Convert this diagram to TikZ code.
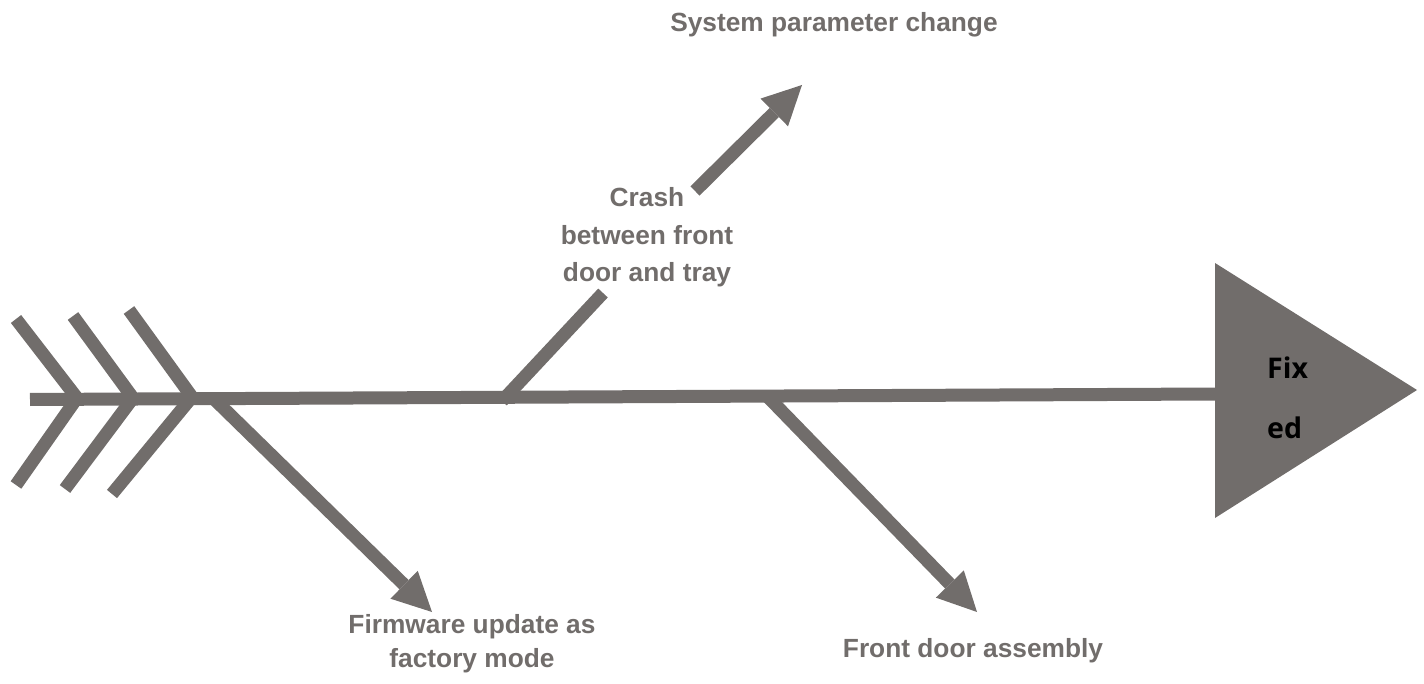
\documentclass[tikz,border=0pt]{standalone}
\usepackage{fontspec}
\setmainfont{Liberation Sans}
\newfontfamily\fixfont{Open Sans}
\usetikzlibrary{arrows.meta}
\definecolor{fishgray}{HTML}{716D6B}
\begin{document}
\begin{tikzpicture}[x=1pt,y=-1pt,
  bone/.style={draw=fishgray,line width=13pt},
  arr/.style={bone,-{Triangle[length=39pt,width=39pt,line width=0pt]}},
  lbl/.style={text=fishgray,font=\fontsize{26.3}{33.5}\selectfont\bfseries,inner sep=0pt,anchor=base,align=center},
  headtxt/.style={text=black,font=\fixfont\fontsize{28.5}{60}\selectfont\bfseries,inner sep=0pt,anchor=base west,align=left}]
\useasboundingbox (0,0) rectangle (1424,684);
% spine and head
\coordinate (tail) at (30,399.5);
\coordinate (head) at (1215,394);
\draw[bone] (tail) -- (head);
\coordinate (h1) at (1215,263);
\coordinate (h2) at (1417,390);
\coordinate (h3) at (1215,518);
\fill[fishgray] (h1) -- (h2) -- (h3) -- cycle;
\node[headtxt] (fixed) at (1267,438) {Fix\\ed};
% tail chevrons
\coordinate (c1a) at (16,319); \coordinate (c1v) at (77,398); \coordinate (c1b) at (16,485);
\coordinate (c2a) at (73,316); \coordinate (c2v) at (133,398); \coordinate (c2b) at (65,489);
\coordinate (c3a) at (129,310); \coordinate (c3v) at (192,397); \coordinate (c3b) at (112,494);
\draw[bone] (c1a) -- (c1v) -- (c1b);
\draw[bone] (c2a) -- (c2v) -- (c2b);
\draw[bone] (c3a) -- (c3v) -- (c3b);
% branches
\coordinate (b1s) at (213,398); \coordinate (b1e) at (432,612);
\draw[arr] (b1s) -- (b1e);
\coordinate (b2s) at (502,401); \coordinate (b2m) at (603,293);
\coordinate (b2n) at (695,191); \coordinate (b2e) at (802,85);
\draw[bone] (b2s) -- (b2m);
\draw[arr] (b2n) -- (b2e);
\coordinate (b3s) at (766,395); \coordinate (b3e) at (977,612);
\draw[arr] (b3s) -- (b3e);
% labels (multi-line nodes are anchored at the last line's baseline)
\node[lbl] (sys) at (834,32) {System parameter change};
\node[lbl,font=\fontsize{26.3}{37.5}\selectfont\bfseries] (crash) at (647,282) {Crash\\between front\\door and tray};
\node[lbl] (firm) at (472,667) {Firmware update as\\factory mode};
\node[lbl] (front) at (973,657) {Front door assembly};
\end{tikzpicture}
\end{document}
